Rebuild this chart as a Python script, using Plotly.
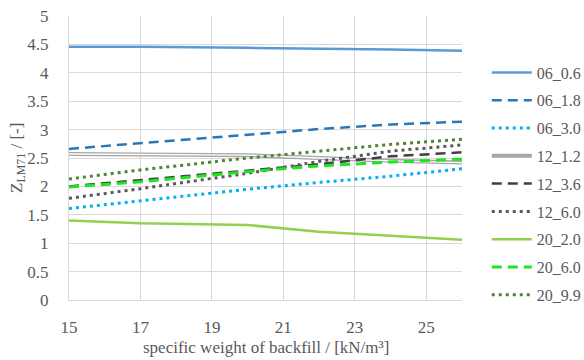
import plotly.graph_objects as go

# specific weight of backfill [kN/m³]
weights = [15, 17, 20, 22, 24, 26]

s06_06 = [4.46, 4.46, 4.44, 4.43, 4.41, 4.39]
s06_18 = [2.66, 2.76, 2.91, 3.01, 3.09, 3.14]
s06_30 = [1.61, 1.75, 1.95, 2.07, 2.18, 2.31]
s12_12 = [2.57, 2.56, 2.55, 2.50, 2.45, 2.42]
s12_36 = [2.00, 2.11, 2.27, 2.39, 2.53, 2.60]
s12_60 = [1.79, 1.96, 2.23, 2.44, 2.62, 2.73]
s20_20 = [1.40, 1.35, 1.32, 1.20, 1.13, 1.06]
s20_60 = [1.99, 2.08, 2.26, 2.36, 2.43, 2.48]
s20_99 = [2.13, 2.29, 2.50, 2.62, 2.74, 2.83]

x_ticks = [15, 17, 19, 21, 23, 25]

FONT = "Liberation Serif"
TXT = "#595959"
GRID = "#D9D9D9"

series = [
    ("06_0.6", s06_06, "#5B9BD5", "solid", 2.5),
    ("06_1.8", s06_18, "#2E75B6", "10px,6px", 2.5),
    ("06_3.0", s06_30, "#00B0F0", "3px,4px", 3),
    ("12_1.2", s12_12, "#A6A6A6", "solid", 4),
    ("12_3.6", s12_36, "#404040", "10px,6px", 2.5),
    ("12_6.0", s12_60, "#595959", "3px,4px", 3),
    ("20_2.0", s20_20, "#92D050", "solid", 2.5),
    ("20_6.0", s20_60, "#1EE61E", "10px,6px", 3),
    ("20_9.9", s20_99, "#548235", "3px,4px", 3),
]

fig = go.Figure()
for name, vals, color, dash, w in series:
    fig.add_trace(go.Scatter(
        x=weights, y=vals, mode="lines", name=name, legendgroup=name,
        line=dict(color=color, dash=dash, width=w),
    ))
    if name == "12_1.2":
        # inner white stroke gives the double-line look
        fig.add_trace(go.Scatter(
            x=weights, y=vals, mode="lines", showlegend=False, legendgroup=name,
            line=dict(color="white", width=1.3), hoverinfo="skip",
        ))

# axis titles placed as annotations for exact positioning
fig.add_annotation(
    text="specific weight of backfill / [kN/m³]", xref="paper", yref="paper",
    x=0.5, y=-0.169, xanchor="center", yanchor="middle", showarrow=False,
    font=dict(family=FONT, size=17, color=TXT),
)
fig.add_annotation(
    text="Z<sub>LM71</sub> / [-]", xref="paper", yref="paper",
    x=-0.13, y=0.5, xanchor="center", yanchor="middle", textangle=-90,
    showarrow=False, font=dict(family=FONT, size=17, color=TXT),
)

fig.update_layout(
    width=584, height=360,
    margin=dict(l=69, r=122, t=16, b=60, autoexpand=False),
    paper_bgcolor="white", plot_bgcolor="white",
    font=dict(family=FONT, size=16, color=TXT),
    showlegend=True,
    legend=dict(
        x=1.063, y=0.861, xanchor="left", yanchor="top",
        font=dict(family=FONT, size=16, color=TXT),
        tracegroupgap=4, itemwidth=40, bgcolor="rgba(0,0,0,0)",
    ),
    xaxis=dict(
        range=[15, 26], tickvals=x_ticks, ticktext=[str(t) for t in x_ticks],
        showgrid=True, gridcolor=GRID, gridwidth=1,
        showline=True, linecolor=GRID, linewidth=1, automargin=False,
        zeroline=False, ticks="", ticklabelstandoff=12,
        tickfont=dict(family=FONT, size=17, color=TXT),
    ),
    yaxis=dict(
        range=[0, 5], dtick=0.5,
        showgrid=True, gridcolor=GRID, gridwidth=1,
        showline=True, linecolor=GRID, linewidth=1, automargin=False,
        zeroline=False, ticks="", ticklabelstandoff=16,
        tickfont=dict(family=FONT, size=17, color=TXT),
    ),
)

fig.write_html("out.html")
